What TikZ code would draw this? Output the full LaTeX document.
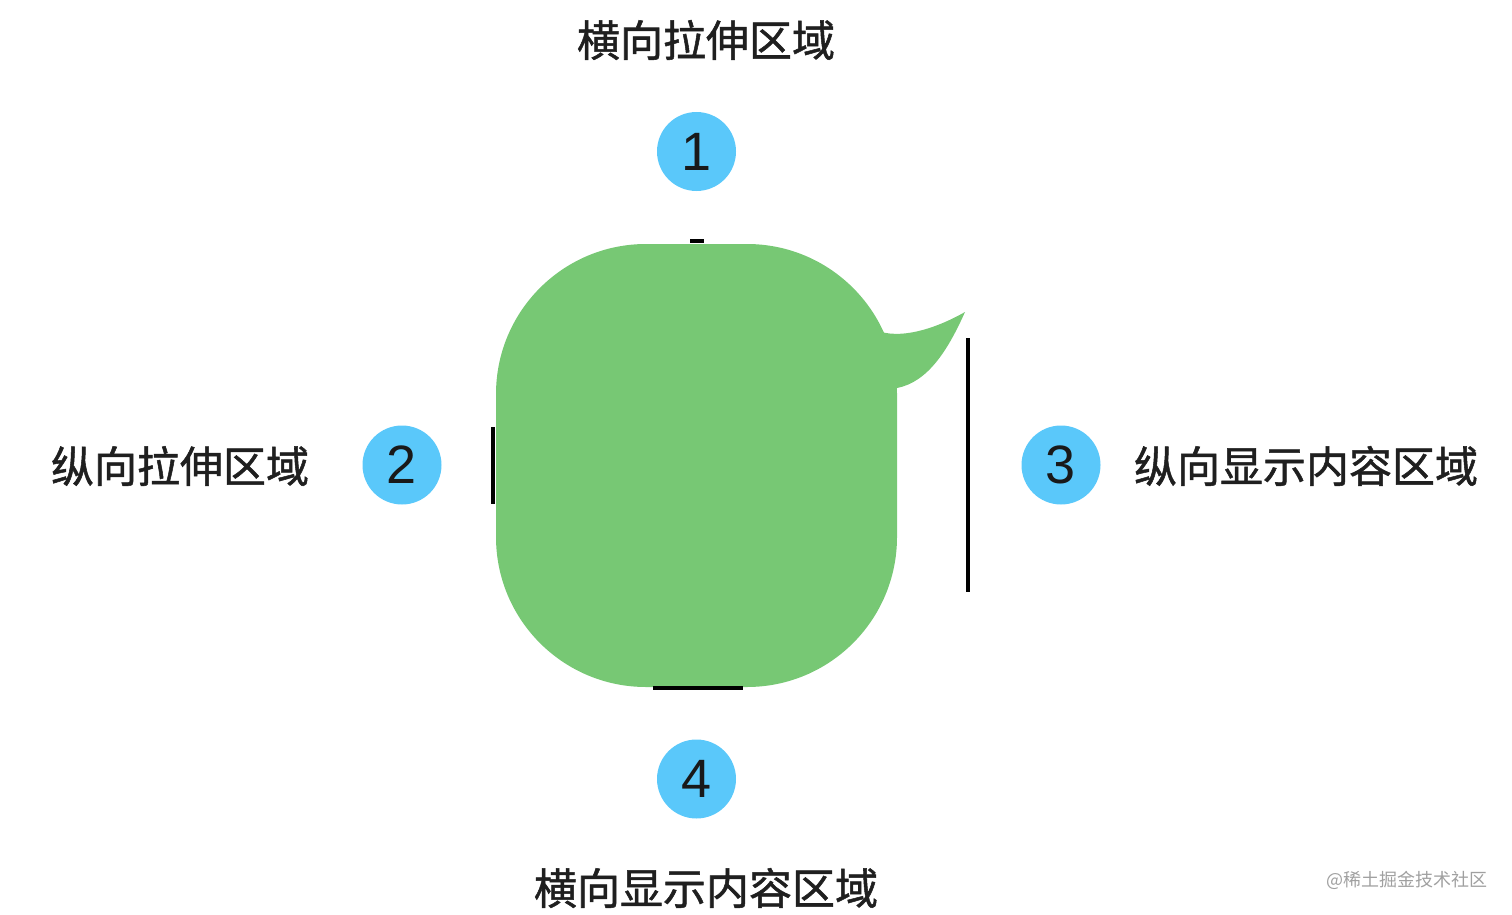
\documentclass[tikz,border=0pt]{standalone}
\usepackage{fontspec}
\setmainfont{Liberation Sans}
\newfontfamily\cjk{Noto Sans CJK SC}
\newfontfamily\cjkmed{Noto Sans CJK SC}[FakeBold=1.2]
\definecolor{bubble}{HTML}{77C874}
\definecolor{badge}{HTML}{5AC8FA}
\definecolor{wm}{HTML}{A0A0A0}
\begin{document}
\begin{tikzpicture}[x=1pt,y=-1pt,
  cjklabel/.style={font=\cjkmed\fontsize{43}{43}\selectfont, text=black!88, inner sep=0pt, anchor=center},
  badgec/.style={circle, fill=badge, minimum size=79pt, inner sep=0pt, font=\fontsize{54}{54}\selectfont, text=black!90},
  markline/.style={line width=3.5pt, black}]
\useasboundingbox (0,0) rectangle (1512,915);
% bubble body
\fill[bubble, rounded corners=150pt] (496,244) rectangle (897,687);
% tail
\fill[bubble] (872,328) .. controls (892,340) and (928,333) .. (965,312)
  .. controls (948,350) and (928,382) .. (897,388) -- (860,395) -- cycle;
% marks
\coordinate (m1a) at (690,241); \coordinate (m1b) at (704,241);
\coordinate (m2a) at (493,427); \coordinate (m2b) at (493,504);
\coordinate (m3a) at (968,338); \coordinate (m3b) at (968,592);
\coordinate (m4a) at (653,688); \coordinate (m4b) at (743,688);
\draw[markline] (m1a) -- (m1b);
\draw[markline] (m2a) -- (m2b);
\draw[markline] (m3a) -- (m3b);
\draw[markline] (m4a) -- (m4b);
% badges
\node[badgec] (b1) at (696.5,151.5) {1};
\node[badgec] (b2) at (402,465) {2};
\node[badgec] (b3) at (1061,465) {3};
\node[badgec] (b4) at (696.5,779) {4};
% labels
\node[cjklabel] (t1) at (706,40) {横向拉伸区域};
\node[cjklabel] (t2) at (180,466) {纵向拉伸区域};
\node[cjklabel] (t3) at (1306,466) {纵向显示内容区域};
\node[cjklabel] (t4) at (706,888) {横向显示内容区域};
\node[font=\cjk\fontsize{18}{18}\selectfont, text=wm, inner sep=0pt] (wmk) at (1407,880) {@稀土掘金技术社区};
\end{tikzpicture}
\end{document}
